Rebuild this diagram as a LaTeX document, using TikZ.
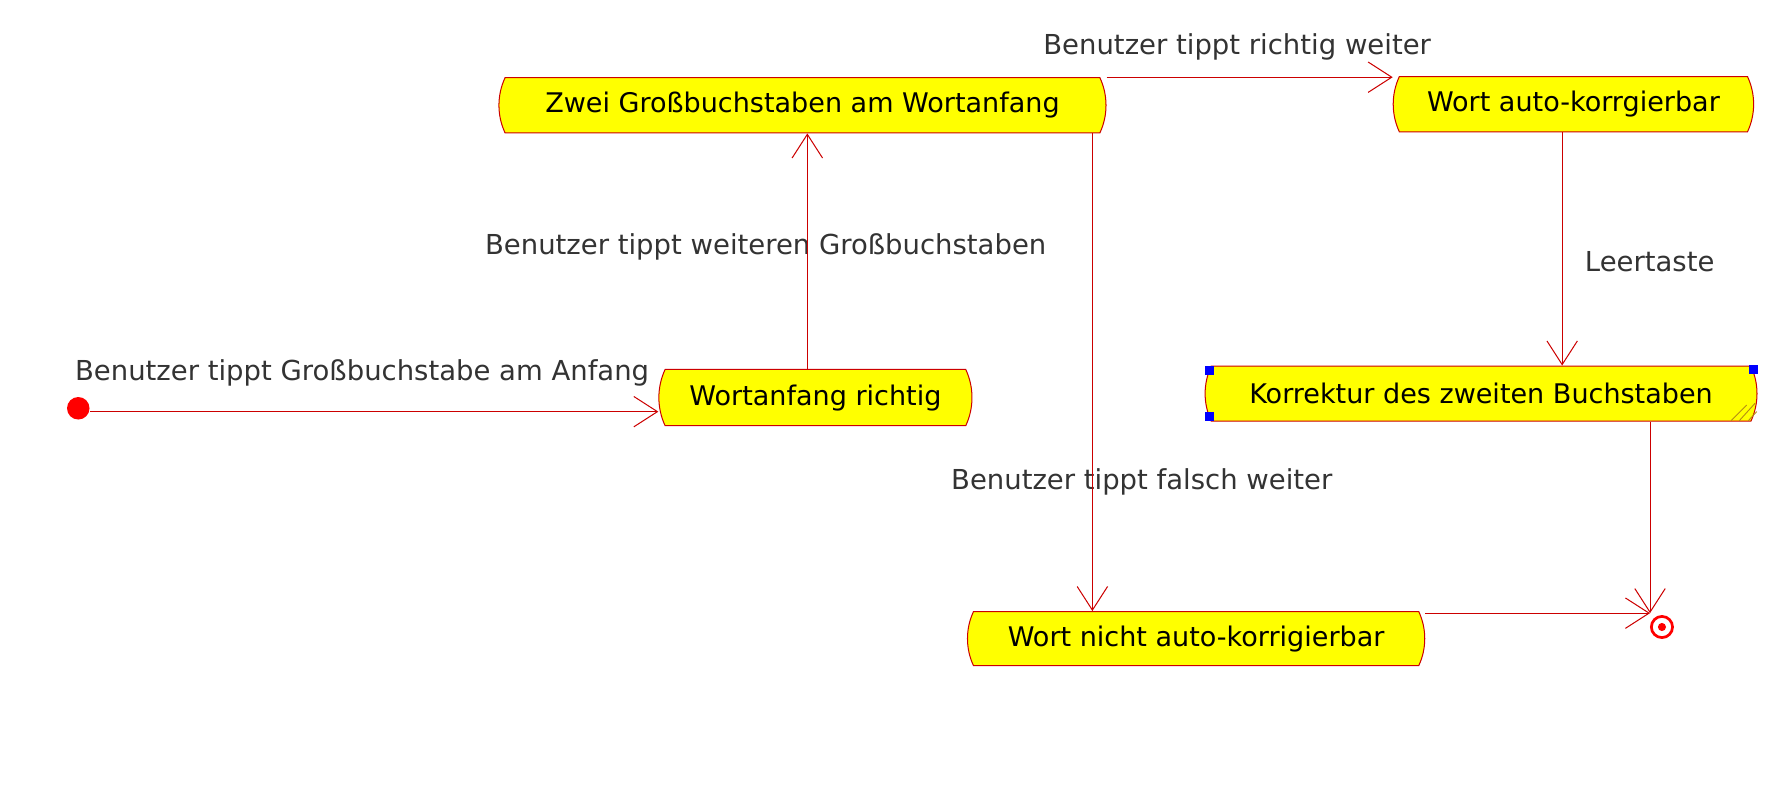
\documentclass[tikz,border=0pt]{standalone}
\usepackage{fontspec}
\setmainfont{DejaVu Sans}
\usetikzlibrary{arrows.meta,shapes.misc}
\definecolor{uline}{RGB}{204,0,0}
\definecolor{ulabel}{RGB}{51,51,51}
\definecolor{uhatch}{RGB}{180,140,20}
\definecolor{ufill}{RGB}{255,255,0}
\begin{document}
\begin{tikzpicture}[x=1pt,y=-1pt,
  state/.style={rounded rectangle, rounded rectangle arc length=50, draw=uline, line width=0.9pt,
    fill=ufill, inner sep=0pt, font=\fontsize{24}{28}\selectfont, text=black},
  flow/.style={draw=uline, line width=0.9pt, -{Straight Barb[length=21pt,width=27pt]}},
  lbl/.style={anchor=base west, inner sep=0pt, text=ulabel, font=\fontsize{24.4}{28}\selectfont},
  handle/.style={fill=blue, draw=none, minimum size=8pt, inner sep=0pt},
]
\useasboundingbox (0,0) rectangle (1568,698);
\fill[white] (0,0) rectangle (1568,698);

% states
\node[state, minimum width=539pt, minimum height=49pt] (A) at (712.5,93.5) {Zwei Großbuchstaben am Wortanfang};
\node[state, minimum width=278pt, minimum height=50pt] (B) at (724,353) {Wortanfang richtig};
\node[state, minimum width=320pt, minimum height=49pt] (C) at (1397,92.5) {Wort auto-korrgierbar};
\node[state, minimum width=490pt, minimum height=49pt] (D) at (1315,349.5) {Korrektur des zweiten Buchstaben};
\node[state, minimum width=406pt, minimum height=48pt] (E) at (1062,567) {Wort nicht auto-korrigierbar};

% selection handles and resize hatch of D
\node[handle, anchor=north west] (h1) at (1070,325) {};
\node[handle, anchor=north east] (h2) at (1561,324) {};
\node[handle, anchor=south west] (h3) at (1070,374) {};
\draw[uhatch, line width=0.8pt] (1537,373.5) -- (1550.8,359.6)
  (1544.3,373.5) -- (1558.2,358.1) (1552.3,373.5) -- (1559.7,365.5);

% initial and final states
\node[circle, fill=red, minimum size=20pt, inner sep=0pt] (S) at (69.5,362.5) {};
\node[circle, draw=red, line width=2.4pt, minimum size=18.8pt, inner sep=0pt] (T) at (1475.6,556.7) {};
\node[circle, fill=red, minimum size=7.2pt, inner sep=0pt] (Td) at (T.center) {};
\coordinate (Tin) at (1465,544.4);

% labels
\node[lbl] (L1) at (66.5,337.4) {Benutzer tippt Großbuchstabe am Anfang};
\node[lbl] (L2) at (430.5,225.8) {Benutzer tippt weiteren Großbuchstaben};
\node[lbl] (L3) at (926.2,48.2) {Benutzer tippt richtig weiter};
\node[lbl] (L4) at (1407,241.5) {Leertaste};
\node[lbl] (L5) at (844.3,434.4) {Benutzer tippt falsch weiter};

% transitions
\path ([yshift=-3pt]S.east) coordinate (s1);
\draw[flow] (s1) -- (s1 -| B.west);
\path ([xshift=-7.2pt]B.north) coordinate (b1);
\draw[flow] (b1) -- (b1 |- A.south);
\path (A.north -| A.east) coordinate (a1);
\draw[flow] (a1) -- (a1 -| C.west);
\path ([xshift=-10pt]C.south) coordinate (c1);
\draw[flow] (c1) -- (c1 |- D.north);
\path ([xshift=257.4pt]A.south) coordinate (a2);
\draw[flow] (a2) -- (a2 |- E.north);
\path ([xshift=150pt]D.south) coordinate (d1);
\draw[flow] (d1) -- (Tin);
\path (E.east |- Tin) coordinate (e1);
\draw[flow] (e1) -- (Tin);
\end{tikzpicture}
\end{document}
